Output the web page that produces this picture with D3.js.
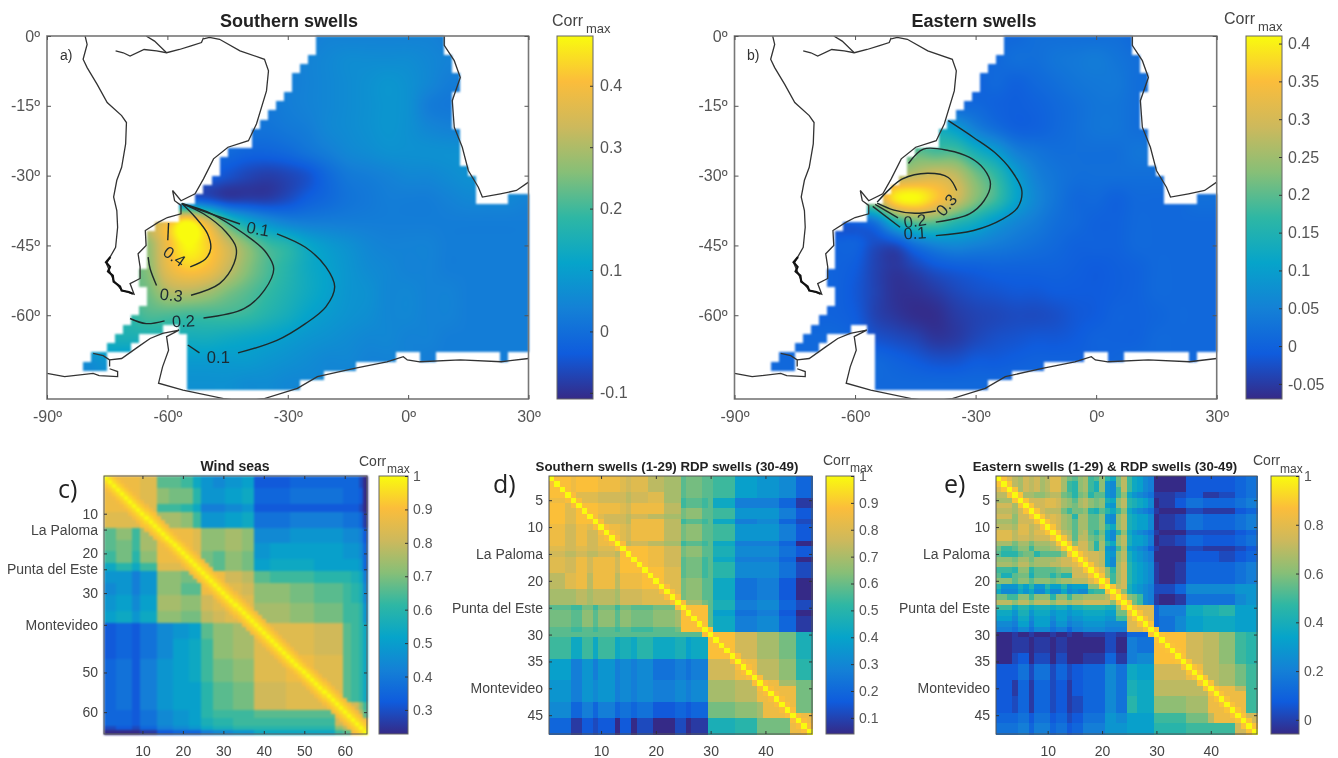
<!DOCTYPE html>
<html>
<head>
<meta charset="utf-8">
<script src="https://cdn.jsdelivr.net/npm/d3@7"></script>
<style>
  html, body { margin: 0; padding: 0; background: #fff; }
  canvas, svg { position: absolute; left: 0; top: 0; }
  canvas { filter: blur(0.8px); }
  text { font-family: "Liberation Sans", Arial, sans-serif; }
</style>
</head>
<body>
<script>
// Swell correlation maps (a, b) and station correlation matrices (c, d, e)

const W = 1338, H = 758;

// parula stops as they look in the figure's colour bars
const PARULA = ['#352a87', '#0f5cdd', '#1481d6', '#06a4ca', '#2eb7a4', '#87bf77', '#cdb95c', '#fbbd3b', '#f9fb0e'];

// ---- map data ----
const gridLons = [-85, -80, -75, -70, -65, -60, -55, -50, -45, -40, -35, -30, -25, -20, -15, -10, -5, 0, 5, 10, 15, 20, 25, 30];
const gridLats = [0, -5, -10, -15, -20, -25, -30, -35, -40, -45, -50, -55, -60, -65, -70, -75];

const southernGrid = [
  [.03,.03,.03,.03,.03,.03,.03,.03,.03,.03,.03,.03,.03,.04,.04,.04,.04,.04,.04,.03,.03,.03,.03,.03],
  [.03,.03,.03,.03,.03,.03,.03,.03,.03,.03,.03,.03,.04,.05,.06,.06,.06,.06,.05,.04,.04,.04,.04,.04],
  [.03,.03,.03,.03,.03,.03,.03,.03,.03,.03,.03,.03,.04,.05,.06,.07,.08,.07,.05,.03,.03,.03,.03,.03],
  [.02,.02,.02,.02,.02,.02,.02,.02,.02,.02,.02,.03,.04,.05,.06,.07,.08,.07,.03,.02,.02,.02,.02,.02],
  [.01,.01,.01,.01,.01,.01,.01,.01,.01,.01,.01,.02,.03,.05,.06,.07,.08,.07,.05,.04,.04,.04,.04,.04],
  [-.01,-.01,-.01,-.01,-.01,-.01,-.01,-.01,-.01,-.02,-.02,-.01,.01,.03,.05,.06,.07,.07,.07,.07,.07,.07,.07,.07],
  [-.03,-.03,-.03,-.03,-.03,-.03,-.03,-.03,-.05,-.07,-.08,-.07,-.05,-.01,.02,.03,.04,.05,.05,.06,.07,.07,.07,.07],
  [-.03,-.03,-.03,-.03,-.03,-.03,-.03,-.05,-.08,-.08,-.08,-.06,-.03,-.01,.01,.02,.03,.03,.03,.04,.05,.05,.05,.04],
  [.3,.3,.3,.3,.3,.38,.48,.36,.2,.12,.07,.04,.03,.03,.03,.03,.03,.03,.03,.03,.03,.03,.03,.03],
  [.25,.25,.25,.25,.27,.39,.48,.43,.34,.26,.2,.17,.12,.09,.07,.05,.04,.04,.04,.03,.03,.03,.03,.03],
  [.23,.23,.23,.23,.26,.37,.42,.4,.33,.26,.21,.17,.13,.105,.08,.06,.05,.04,.04,.03,.03,.03,.03,.03],
  [.23,.23,.23,.23,.24,.3,.31,.29,.25,.22,.19,.16,.13,.105,.08,.07,.05,.05,.04,.04,.03,.03,.03,.03],
  [.18,.18,.18,.18,.21,.21,.2,.2,.2,.19,.165,.14,.11,.09,.075,.065,.05,.05,.04,.04,.03,.03,.03,.03],
  [.15,.15,.15,.15,.15,.15,.14,.14,.13,.12,.11,.095,.08,.07,.06,.05,.05,.04,.04,.03,.03,.03,.03,.03],
  [.06,.06,.08,.08,.09,.09,.09,.09,.09,.09,.08,.07,.06,.05,.05,.04,.04,.04,.03,.03,.03,.03,.03,.03],
  [.06,.06,.07,.07,.07,.07,.07,.07,.07,.06,.06,.05,.05,.05,.04,.04,.04,.03,.03,.03,.03,.03,.03,.03]
];

const easternGrid = [
  [.01,.01,.01,.01,.01,.01,.01,.01,.01,.01,.01,.01,.01,.01,.02,.02,.02,.02,.02,.01,.01,.01,.01,.01],
  [.01,.01,.01,.01,.01,.01,.01,.01,.01,.01,.01,.01,.01,.02,.02,.03,.035,.04,.03,.02,.02,.02,.02,.02],
  [.01,.01,.01,.01,.01,.01,.01,.01,.01,.01,.01,0,.01,0,.01,.02,.03,.035,.035,.02,.02,.02,.02,.02],
  [.01,.01,.01,.01,.01,.01,.01,.01,.01,.01,.01,.01,0,-.005,0,.01,.02,.03,.03,.02,.02,.02,.02,.02],
  [.1,.1,.1,.1,.1,.1,.1,.1,.12,.13,.1,.05,.02,0,0,.01,.02,.03,.03,.02,.02,.02,.02,.02],
  [.15,.15,.15,.15,.15,.15,.15,.15,.2,.19,.19,.14,.1,.05,.03,.02,.02,.02,.02,.03,.03,.03,.03,.03],
  [.26,.26,.26,.26,.26,.26,.26,.26,.28,.3,.28,.22,.17,.1,.05,.03,.02,.02,.02,.02,.02,.02,.02,.02],
  [.25,.25,.25,.25,.25,.25,.27,.39,.41,.36,.3,.23,.18,.11,.06,.03,.01,.01,0,.01,.01,.01,.02,.02],
  [0,0,0,0,0,0,.03,.14,.2,.2,.16,.13,.09,.06,.04,.02,.01,0,0,.01,.01,.01,.01,.01],
  [0,0,0,0,0,0,-.03,-.03,.02,.05,.06,.05,.04,.03,.02,.01,0,0,0,.01,.01,.01,.01,.01],
  [0,0,0,0,0,-.01,-.04,-.055,-.04,-.02,-.01,-.005,0,0,0,0,-.005,-.01,-.005,0,.01,.01,.01,.01],
  [0,0,0,0,0,-.015,-.04,-.06,-.06,-.05,-.035,-.025,-.02,-.015,-.015,-.01,-.01,-.01,-.005,0,.01,.01,.01,.01],
  [0,0,0,0,0,-.01,-.04,-.055,-.065,-.065,-.05,-.04,-.035,-.03,-.03,-.025,-.015,-.01,0,0,.005,.01,.01,.01],
  [.01,.01,.01,.01,.01,0,-.02,-.03,-.04,-.055,-.05,-.035,-.025,-.02,-.015,-.015,-.01,0,0,0,.01,.01,.01,.01],
  [.01,.01,.01,.01,.01,.01,.01,0,-.01,-.02,-.02,-.01,-.01,-.005,0,0,0,0,.005,.01,.01,.01,.01,.01],
  [.01,.01,.01,.01,.01,.01,.01,.01,.01,.01,.01,.01,.01,.01,.01,.01,.01,.01,.01,.01,.01,.01,.01,.01]
];

// ocean cells of the 2 degree model grid: one row per 2 degrees of latitude, [west, east] spans
const oceanSpans = [
  [[-23, 9]], [[-23, 9]], [[-25, 11]], [[-27, 11]], [[-29, 13]], [[-29, 13]], [[-31, 11]], [[-33, 11]],
  [[-35, 11]], [[-37, 11]], [[-39, 13]], [[-39, 13]], [[-45, 13]], [[-47, 13]], [[-47, 15]], [[-49, 17]],
  [[-51, 17]], [[-53, 17], [25, 31]], [[-57, 31]], [[-57, 31]], [[-63, 31]], [[-65, 31]], [[-65, 31]], [[-65, 31]],
  [[-65, 31]], [[-67, 31]], [[-67, 31]], [[-65, 31]], [[-65, 31]], [[-67, 31]], [[-69, 31]],
  [[-71, -61], [-57, 31]], [[-73, -67], [-55, 31]], [[-75, -69], [-55, 31]],
  [[-79, -75], [-55, -3], [3, 7], [23, 25]], [[-81, -75], [-55, -13]], [[-55, -21]], [[-55, -27]], []
];

// coastlines, lon/lat
const coastSouthAmerica = [[-80.5,0],[-80,-1.8],[-81,-5],[-80,-6.8],[-77.5,-10.4],[-75,-14.3],[-71.4,-17.1],[-70.2,-18.6],[-70.4,-23.2],[-71.4,-28.2],[-72.6,-31],[-73.4,-34.6],[-72.6,-37.5],[-72.4,-41.1],[-72.9,-45.4],[-75.2,-48.9],[-73.4,-52.5],[-71.4,-54.6],[-68.3,-55.5],[-69.3,-53.2],[-66.8,-52.1],[-66.8,-49.6],[-67.3,-46.8],[-65.3,-45],[-65.5,-41.8],[-62.2,-40],[-60,-39],[-56.6,-38.2],[-56.6,-36.4],[-58.2,-35.4],[-58.7,-33.2],[-56.6,-35.4],[-53.1,-33.9],[-51,-30.7],[-48.5,-26.4],[-44.9,-23.9],[-39.8,-22.5],[-37.8,-18.9],[-35.3,-11.8],[-34.8,-7.5],[-35.8,-5],[-41.9,-3.2],[-47,-0.7],[-49.5,-0.3],[-51,-0.6]];
const coastAmazon = [[-72.9,-3.2],[-71,-3.6],[-69.3,-4.3],[-65.8,-2.9],[-62.7,-3.2],[-60.2,-3.6],[-57,-2.9],[-54.1,-2.1],[-51.5,-1.4],[-51,-0.4]];
const coastOrinoco = [[-65.3,0],[-63.2,-1.1],[-60.2,-3.6]];
const coastFjords = [[-74.2,-47.5],[-75.3,-48.6],[-74.3,-49.6],[-74.8,-50.6],[-73.6,-51.5],[-73.4,-52.8],[-71.8,-53.8],[-71.4,-54.7],[-69.6,-55],[-68.6,-55.4]];
const coastAfrica = [[9,0],[9,-2],[11.5,-5.3],[13,-8.9],[11,-13.9],[11.5,-19.6],[13.5,-23.9],[15,-28.9],[17.5,-32.5],[18.5,-34.6],[23,-33.9],[27,-33.2],[30,-31.4]];
const coastBellingshausen = [[-90,-72.5],[-85.6,-73.2],[-78.5,-72.5],[-77,-73],[-72.4,-73.2],[-72.4,-72.1],[-74.4,-71.5]];
const coastAlexander = [[-78.5,-68.2],[-76,-68.7],[-74.4,-69.6],[-74.4,-71]];
const coastAntarctica = [[-74.4,-69.6],[-71.4,-69.3],[-67.3,-66.8],[-64.3,-65],[-61.2,-63.9],[-57.1,-63.2],[-60.2,-64.6],[-59.7,-67.5],[-61.2,-71.1],[-62.2,-74.6],[-56.1,-76.1],[-46,-77.9],[-41,-78.5],[-35.8,-77.9],[-27.6,-75.7],[-22.6,-73.2],[-13.4,-71.4],[-5.3,-70],[-1.2,-68.9],[-0.2,-69.6],[2.9,-70],[13,-69.6],[23.2,-70],[30,-69.3]];
const coastlines = [coastSouthAmerica, coastAmazon, coastOrinoco, coastBellingshausen, coastAlexander, coastAntarctica, coastAfrica];

// contour segments of map a, lon/lat
const southernContours = [
  [[-56.4,-36],[-53.1,-38.9],[-50,-42.5],[-49.2,-45.7],[-50.5,-47.9],[-54.3,-49.6]],
  [[-59.7,-40.2],[-59.9,-43.9]],
  [[-56.4,-36],[-51,-38.2],[-45.4,-42.1],[-42.9,-45.4],[-43.4,-48.9],[-47,-53.2],[-54.1,-55.7]],
  [[-62.7,-53.6],[-64.3,-50],[-64.8,-47.5]],
  [[-56.4,-36],[-49,-38.2],[-40.9,-42.5],[-35.8,-46.1],[-33.5,-50],[-35.8,-54.6],[-40.9,-58.6],[-51,-60.6]],
  [[-60.7,-61.2],[-65.3,-61.8],[-69.3,-60.7]],
  [[-56.4,-36],[-41.9,-40.4]],
  [[-32.7,-42.5],[-25.6,-45.4],[-20.5,-49.6],[-18.3,-53.9],[-20.5,-58.2],[-25.6,-61.8],[-32.7,-65.4],[-42.4,-68.1]],
  [[-52,-68.1],[-54.9,-66.4]]
];
const southernLabels = [
  { text: '0.4', lon: -58.2, lat: -47.3, angle: 35 },
  { text: '0.3', lon: -59, lat: -55.6, angle: 6 },
  { text: '0.2', lon: -56, lat: -61.2, angle: -3 },
  { text: '0.1', lon: -37.4, lat: -41.4, angle: 10 },
  { text: '0.1', lon: -47.3, lat: -69, angle: 0 }
];

// contour segments of map b
const easternContours = [
  [[-54.5,-35.7],[-51.4,-32.9],[-48.2,-30.7],[-42,-29.5],[-36.8,-30.4],[-34.7,-33.2]],
  [[-39.9,-37.6],[-45.1,-38.1],[-50.3,-37.4],[-54.5,-35.9]],
  [[-46.7,-27.4],[-43,-24.3],[-36.8,-24.6],[-31.5,-26.1],[-27.9,-28.6],[-26.3,-31.8],[-27.9,-35.4],[-31.5,-38.2],[-39.9,-40]],
  [[-49.3,-39.1],[-55,-36.2]],
  [[-36.8,-18.2],[-30.5,-21.8],[-25.3,-25],[-21.1,-28.9],[-18.5,-33.2],[-19.5,-36.8],[-23.2,-39.3],[-30.5,-41.8],[-39.9,-42.9]],
  [[-48.8,-41.1],[-55.6,-36.6]]
];
const easternLabels = [
  { text: '0.3', lon: -37.3, lat: -36.3, angle: -50 },
  { text: '0.2', lon: -45.1, lat: -39.7, angle: -8 },
  { text: '0.1', lon: -45.1, lat: -42.3, angle: -4 }
];

const lonTicks = [-90, -60, -30, 0, 30];
const latTicks = [0, -15, -30, -45, -60];

const southernBarTicks = [0.4, 0.3, 0.2, 0.1, 0, -0.1];
const easternBarTicks = [0.4, 0.35, 0.3, 0.25, 0.2, 0.15, 0.1, 0.05, 0, -0.05];

// ---- matrix data ----
// each row group: [last row, runs of letter+count from column 1]. a..z spans the colour bar.
const windSeasRows = [
  [9, 'v9'],
  [13, 'u9w4'],
  [16, 'o3q4n2r4w11'],
  [19, 'o3p4n2r4v11'],
  [22, 'n3p4m2q4v11'],
  [24, 'k3m4k2n4u11'],
  [27, 'i3i4g2i4q6p5v13'],
  [30, 'h3i4g2i4q6o5v13'],
  [34, 'i3j4h2j4r6q5t3u10'],
  [37, 'j3k4i2k4q6p5s3t3u7'],
  [41, 'd3e4d2f4h4i4j3o3q5r5v22'],
  [46, 'd3e4d2f4h4j4k3n3q5r5u5v17'],
  [52, 'e3f4d2g4i4j4k3n3p5q5u8v14'],
  [59, 'e3f4d2g4i4j4j3m3o5p5t8u14'],
  [61, 'e3e4d2f4h4i4j3m3n5n5o20s2'],
  [63, 'e3e4d2f4h4i4j3l3m5n5n20t2u4'],
  [64, 'c3d4c2e4g4h4i3k3l5m5m20q2s4'],
  [65, 'a3a4a2b4d4e4e3g3h5i5k20n2o4']
];

const southernRdpRows = [
  [4, 'w3'],
  [5, 'v4'],
  [9, 'w3u2w3'],
  [10, 'v3t2v2u2'],
  [13, 'v3t2v2t2v3'],
  [14, 'u3t2u2t2u4'],
  [15, 't3s2t2s2t3s2'],
  [18, 'u3t2v2t1v4t1w4'],
  [21, 's3u2v2s1v4s1v4w2'],
  [24, 'r5s2r1s4r1t4u6'],
  [25, 'o4n2p2n1p3n1p2o4p4q1'],
  [28, 'p4o2q2o1q3o1q2p4q4r1w4'],
  [29, 'o4n2o2n1o3n1o2n4o4p1w4'],
  [30, 'o29'],
  [34, 'n4k2n2k1n3k1l2k1m3k4l2j1k3w5'],
  [38, 'j4g2i2g1i3g1h2g1h3f4g2f1g3t5v4'],
  [42, 'i4g2i2h1i3g1h2g1h3g4h2g1h3r5s4v4'],
  [45, 'h4e2g2e1g3e1f2e1f3d4e2d1e3p5q4r1v6'],
  [48, 'e4b2d2c1d3a1d2a1c3a4c2a1b3l5m4p6v4']
];

const easternRdpRows = [
  [2, 'u1'], [3, 'u2'], [4, 's3'], [5, 'r3t1'], [6, 't3r1u1'], [7, 's3r1t2'], [8, 't3q1t3'],
  [9, 'r3q1t3s1'], [10, 's3r1u2s1t2'], [11, 'u3s1u2s1u3'], [12, 'u3s1t2s1t3v1'], [13, 'r3p1r2p1r3s2'],
  [14, 'p1n2o1q2n1q3r1s2'], [15, 'o1m3o1p2m1o3o1q2s1'], [16, 'q3p1r2p1r3r1s1t2u1'], [17, 'r3q1s2q1r3s1s1t2u2'],
  [18, 'n3m1q2m1o3o1p1q2t3'], [19, 'o1l2o1p2l1o3m1o1m2t3u1'], [20, 'q3o1q2o1q3p1q1r2s3u2'],
  [21, 'm1i3l1j1m1i2m1j2m1i1j1j2q4'], [22, 'k1h3k1i1k1h2k1h2k1h1i1h2m1n3r1'], [23, 'p2n2q2n1q3m1q2n1q2r4s2'],
  [24, 's3q1s2q1s3q1s2r1s2t5q1s1'],
  [25, 'n3k1m2k1l3k1l2j1l2m4l2q2'], [26, 'k3i1l2i1k3i1j2i1j2k4j2p2u1'], [27, 'j3h1k2h1j3h1j2h1i2j4i2n2u2'],
  [28, 'h3g1j2g1j3g1i2g1h2i4h2h2u3'], [29, 'g3f1h2f1h3f1g2e1g2h4g2g2u4'],
  [30, 'a3b1a2b1a3b1a2b1a2b4c2b2e5'],
  [33, 'a3b1b2a1b3a1b2a1a2a4c2a2g2f3w5'],
  [35, 'a3c1d2a1c3a1c2a1a2b4e2b2g2h3w6'],
  [38, 'd3d1f2c1f3c1e2c1d2e4h2f2k2j3t6v4'],
  [41, 'd3b1e2b1e3c1d2b1d2e4h2f2l2k3s6s4v3'],
  [44, 'd3c1e2b1e3c1d2b1c2e4h2f2m2k3q6r4v5'],
  [46, 'e3e1f2d1f3d1e2c1d2f4i2h2j2j3n6p4s1v5'],
  [48, 'f3f1g2e1g3e1f2d1e2g4i2i2j2j3m6n4n5t4']
];

// how close to 1 the cells next to the diagonal are (offset 1, 2, 3)
const nearDiagonalWind = [0.95, 0.92, 0.89];
const nearDiagonalSwell = [0.88];

const windTicks = [10, 14, 20, 24, 30, 38, 50, 60];
const windNames = { 14: 'La Paloma', 24: 'Punta del Este', 38: 'Montevideo' };
const swellTicks = [5, 10, 15, 20, 25, 30, 35, 40, 45];
const swellNames = { 15: 'La Paloma', 25: 'Punta del Este', 40: 'Montevideo' };

const svg = d3.select('body').append('svg').attr('width', W).attr('height', H);
const defs = svg.append('defs');
const canvas = d3.select('body').insert('canvas', 'svg').attr('width', W).attr('height', H);
const ctx = canvas.node().getContext('2d');

function parulaScale(lo, hi) {
  const dom = PARULA.map((c, i) => lo + (hi - lo) * i / (PARULA.length - 1));
  return d3.scaleLinear().domain(dom).range(PARULA).clamp(true);
}

function isOcean(lon, lat) {
  const row = oceanSpans[Math.floor(-lat / 2)];
  return !!row && row.some(s => lon >= s[0] && lon < s[1]);
}

// catmull-rom through the read values so the field shades smoothly like the figure
function cubic(a, b, c, d, t) {
  return b + 0.5 * t * (c - a + t * (2 * a - 5 * b + 4 * c - d + t * (3 * (b - c) + d - a)));
}

function sampleGrid(grid, lon, lat) {
  const fx = Math.max(0, Math.min(gridLons.length - 1.001, (lon - gridLons[0]) / 5));
  const fy = Math.max(0, Math.min(gridLats.length - 1.001, -lat / 5));
  const ix = Math.floor(fx), iy = Math.floor(fy);
  const cell = (r, c) => grid[Math.max(0, Math.min(gridLats.length - 1, r))][Math.max(0, Math.min(gridLons.length - 1, c))];
  const rowAt = r => cubic(cell(r, ix - 1), cell(r, ix), cell(r, ix + 1), cell(r, ix + 2), fx - ix);
  return cubic(rowAt(iy - 1), rowAt(iy), rowAt(iy + 1), rowAt(iy + 2), fy - iy);
}

function drawField(grid, x, y, color) {
  const x0 = Math.round(x.range()[0]), x1 = Math.round(x.range()[1]);
  const y0 = Math.round(y.range()[0]), y1 = Math.round(y.range()[1]);
  const img = ctx.createImageData(x1 - x0, y1 - y0);
  for (let py = y0; py < y1; py++) {
    for (let px = x0; px < x1; px++) {
      const lon = x.invert(px + 0.5), lat = y.invert(py + 0.5);
      const k = 4 * ((py - y0) * (x1 - x0) + (px - x0));
      if (!isOcean(lon, lat)) { img.data[k] = img.data[k + 1] = img.data[k + 2] = img.data[k + 3] = 255; continue; }
      const c = d3.rgb(color(sampleGrid(grid, lon, lat)));
      img.data[k] = c.r; img.data[k + 1] = c.g; img.data[k + 2] = c.b; img.data[k + 3] = 255;
    }
  }
  ctx.putImageData(img, x0, y0);
}

function corrLabel(xText, yText, size, xSub, ySub, subSize) {
  svg.append('text').attr('x', xText).attr('y', yText).attr('font-size', size).attr('fill', '#444').text('Corr');
  svg.append('text').attr('x', xSub).attr('y', ySub).attr('font-size', subSize).attr('fill', '#444').text('max');
}

function colorBar(id, box, lo, hi, ticks, fontSize, labelDx) {
  const y = d3.scaleLinear().domain([lo, hi]).range([box.y1, box.y0]);
  const grad = defs.append('linearGradient').attr('id', id).attr('x1', 0).attr('x2', 0).attr('y1', 1).attr('y2', 0);
  PARULA.forEach((c, i) => grad.append('stop').attr('offset', i / (PARULA.length - 1)).attr('stop-color', c));
  svg.append('rect').attr('x', box.x0).attr('y', box.y0).attr('width', box.x1 - box.x0).attr('height', box.y1 - box.y0)
    .attr('fill', `url(#${id})`).attr('stroke', '#666').attr('stroke-width', 1);
  const g = svg.append('g').attr('transform', `translate(${box.x1},0)`)
    .call(d3.axisRight(y).tickValues(ticks).tickSize(-3).tickPadding(labelDx).tickFormat(d => String(d)));
  g.select('.domain').remove();
  g.selectAll('line').attr('stroke', '#333');
  g.selectAll('text').attr('font-size', fontSize).attr('fill', '#555');
}

function drawMap(opts) {
  const x = d3.scaleLinear().domain([-90, 30]).range([opts.x0, opts.x1]);
  const y = d3.scaleLinear().domain([0, -78]).range([36, 399]);
  drawField(opts.grid, x, y, opts.color);

  const clipId = 'clip-' + opts.id;
  defs.append('clipPath').attr('id', clipId).append('rect')
    .attr('x', opts.x0).attr('y', 36).attr('width', opts.x1 - opts.x0).attr('height', 363);
  const g = svg.append('g').attr('clip-path', `url(#${clipId})`);
  const path = d3.line().x(d => x(d[0])).y(d => y(d[1]));
  const smooth = d3.line().x(d => x(d[0])).y(d => y(d[1])).curve(d3.curveCatmullRom);

  g.selectAll('path.coast').data(coastlines).join('path').attr('class', 'coast')
    .attr('d', path).attr('fill', 'none').attr('stroke', '#333').attr('stroke-width', 1.3);
  g.append('path').attr('d', path(coastFjords)).attr('fill', 'none').attr('stroke', '#111').attr('stroke-width', 2.2);

  g.selectAll('path.contour').data(opts.contours).join('path').attr('class', 'contour')
    .attr('d', smooth).attr('fill', 'none').attr('stroke', '#1f2a2a').attr('stroke-width', 1.4);
  g.selectAll('text.clabel').data(opts.labels).join('text').attr('class', 'clabel')
    .attr('transform', d => `translate(${x(d.lon)},${y(d.lat)}) rotate(${d.angle})`)
    .attr('text-anchor', 'middle').attr('dy', '0.36em').attr('font-size', 16.5).attr('fill', '#1c2b33')
    .text(d => d.text);

  svg.append('rect').attr('x', opts.x0).attr('y', 36).attr('width', opts.x1 - opts.x0).attr('height', 363)
    .attr('fill', 'none').attr('stroke', '#777').attr('stroke-width', 1.6);

  const ax = svg.append('g').attr('transform', 'translate(0,399)')
    .call(d3.axisBottom(x).tickValues(lonTicks).tickSize(-4).tickPadding(12).tickFormat(d => d + 'º'));
  const ay = svg.append('g').attr('transform', `translate(${opts.x0},0)`)
    .call(d3.axisLeft(y).tickValues(latTicks).tickSize(-4).tickPadding(7).tickFormat(d => d + 'º'));
  const ar = svg.append('g').attr('transform', `translate(${opts.x1},0)`)
    .call(d3.axisRight(y).tickValues(latTicks).tickSize(-4).tickFormat(''));
  const at = svg.append('g').attr('transform', 'translate(0,36)')
    .call(d3.axisTop(x).tickValues(lonTicks).tickSize(-4).tickFormat(''));
  [ax, ay, ar, at].forEach(a => {
    a.select('.domain').remove();
    a.selectAll('line').attr('stroke', '#555');
    a.selectAll('text').attr('font-size', 16).attr('fill', '#555');
  });

  svg.append('text').attr('x', opts.titleX).attr('y', 27).attr('text-anchor', 'middle')
    .attr('font-weight', 'bold').attr('font-size', 18).attr('fill', '#222').text(opts.title);
  svg.append('text').attr('x', opts.tagX).attr('y', 60).attr('font-size', 14).attr('fill', '#333').text(opts.tag);
}

function decodeRows(rows, n) {
  // expand the run strings into a symmetric n x n index table
  const table = d3.range(n).map(() => new Array(n).fill(25));
  let from = 2;
  rows.forEach(([last, runs]) => {
    const cols = [];
    for (const m of runs.matchAll(/([a-z])(\d+)/g)) {
      for (let k = 0; k < +m[2]; k++) cols.push(m[1].charCodeAt(0) - 97);
    }
    for (let r = from; r <= last; r++) {
      for (let c = 1; c < r; c++) {
        const v = cols[Math.min(c, cols.length) - 1];
        table[r - 1][c - 1] = v;
        table[c - 1][r - 1] = v;
      }
    }
    from = last + 1;
  });
  return table;
}

function drawMatrix(opts) {
  const n = opts.n;
  const x = d3.scaleLinear().domain([0.5, n + 0.5]).range([opts.x0, opts.x1]);
  const y = d3.scaleLinear().domain([0.5, n + 0.5]).range([476, 734]);
  const color = parulaScale(opts.lo, opts.hi);
  const table = decodeRows(opts.rows, n);

  const cells = [];
  table.forEach((row, r) => row.forEach((idx, c) => {
    let v = opts.lo + (opts.hi - opts.lo) * idx / 25;
    const off = Math.abs(r - c);
    if (off === 0) v = 1;
    else if (off <= opts.near.length) v = Math.max(v, opts.near[off - 1]);
    cells.push({ r: r + 1, c: c + 1, v });
  }));

  svg.append('g').style('filter', `blur(${opts.blur}px)`).attr('shape-rendering', 'crispEdges')
    .selectAll('rect').data(cells).join('rect')
    .attr('x', d => x(d.c - 0.5)).attr('y', d => y(d.r - 0.5))
    .attr('width', x(2) - x(1) + 0.5).attr('height', y(2) - y(1) + 0.5)
    .attr('fill', d => color(d.v));

  svg.append('rect').attr('x', opts.x0).attr('y', 476).attr('width', opts.x1 - opts.x0).attr('height', 258)
    .attr('fill', 'none').attr('stroke', '#555').attr('stroke-width', 1);

  const ax = svg.append('g').attr('transform', 'translate(0,734)')
    .call(d3.axisBottom(x).tickValues(opts.xTicks).tickSize(-3).tickPadding(12));
  const ay = svg.append('g').attr('transform', `translate(${opts.x0},0)`)
    .call(d3.axisLeft(y).tickValues(opts.yTicks).tickSize(-3).tickPadding(6).tickFormat(d => opts.names[d] || d));
  const ar = svg.append('g').attr('transform', `translate(${opts.x1},0)`)
    .call(d3.axisRight(y).tickValues(opts.yTicks).tickSize(-3).tickFormat(''));
  const at = svg.append('g').attr('transform', 'translate(0,476)')
    .call(d3.axisTop(x).tickValues(opts.xTicks).tickSize(-3).tickFormat(''));
  [ax, ay, ar, at].forEach(a => {
    a.select('.domain').remove();
    a.selectAll('line').attr('stroke', '#333');
    a.selectAll('text').attr('font-size', 14).attr('fill', '#444');
  });

  svg.append('text').attr('x', opts.titleX).attr('y', 471).attr('text-anchor', 'middle')
    .attr('font-weight', 'bold').attr('font-size', opts.titleSize).attr('fill', '#222').text(opts.title);
  svg.append('text').attr('x', opts.tagX).attr('y', opts.tagY).attr('font-size', 25)
    .attr('fill', '#222').style('font-family', '"Open Sans", sans-serif').text(opts.tag);
}

// maps
drawMap({ id: 'a', grid: southernGrid, color: parulaScale(-0.11, 0.481), x0: 47, x1: 528.5,
  contours: southernContours, labels: southernLabels, title: 'Southern swells', titleX: 289, tag: 'a)', tagX: 60 });
drawMap({ id: 'b', grid: easternGrid, color: parulaScale(-0.07, 0.41), x0: 734.5, x1: 1216.7,
  contours: easternContours, labels: easternLabels, title: 'Eastern swells', titleX: 974, tag: 'b)', tagX: 747 });

colorBar('barA', { x0: 557, x1: 593, y0: 36, y1: 399 }, -0.11, 0.481, southernBarTicks, 16, 7);
colorBar('barB', { x0: 1246, x1: 1282, y0: 36, y1: 399 }, -0.07, 0.41, easternBarTicks, 16, 6);
corrLabel(552, 26, 16, 586, 33, 13);
corrLabel(1224, 24, 16, 1258, 31, 13);

// matrices
drawMatrix({ n: 65, rows: windSeasRows, near: nearDiagonalWind, lo: 0.228, hi: 1, blur: 1.3,
  x0: 104, x1: 367, xTicks: [10, 20, 30, 40, 50, 60], yTicks: windTicks, names: windNames,
  title: 'Wind seas', titleX: 235, titleSize: 14, tag: 'c)', tagX: 58, tagY: 498 });
drawMatrix({ n: 48, rows: southernRdpRows, near: nearDiagonalSwell, lo: 0.04, hi: 1, blur: 0.7,
  x0: 549, x1: 812, xTicks: [10, 20, 30, 40], yTicks: swellTicks, names: swellNames,
  title: 'Southern swells (1-29) RDP swells (30-49)', titleX: 667, titleSize: 13.3, tag: 'd)', tagX: 493, tagY: 493 });
drawMatrix({ n: 48, rows: easternRdpRows, near: nearDiagonalSwell, lo: -0.058, hi: 1, blur: 0.7,
  x0: 996, x1: 1257, xTicks: [10, 20, 30, 40], yTicks: swellTicks, names: swellNames,
  title: 'Eastern swells (1-29) & RDP swells (30-49)', titleX: 1105, titleSize: 13.2, tag: 'e)', tagX: 944, tagY: 493 });

colorBar('barC', { x0: 379, x1: 408, y0: 476, y1: 734 }, 0.228, 1, [1, 0.9, 0.8, 0.7, 0.6, 0.5, 0.4, 0.3], 14, 5);
colorBar('barD', { x0: 826, x1: 854, y0: 476, y1: 734 }, 0.04, 1, [1, 0.9, 0.8, 0.7, 0.6, 0.5, 0.4, 0.3, 0.2, 0.1], 14, 5);
colorBar('barE', { x0: 1271, x1: 1299, y0: 476, y1: 734 }, -0.058, 1, [1, 0.8, 0.6, 0.4, 0.2, 0], 14, 5);
corrLabel(359, 466, 14, 387, 473, 12);
corrLabel(823, 465, 14, 850, 472, 12);
corrLabel(1253, 465, 14, 1280, 473, 12);
</script>
</body>
</html>
